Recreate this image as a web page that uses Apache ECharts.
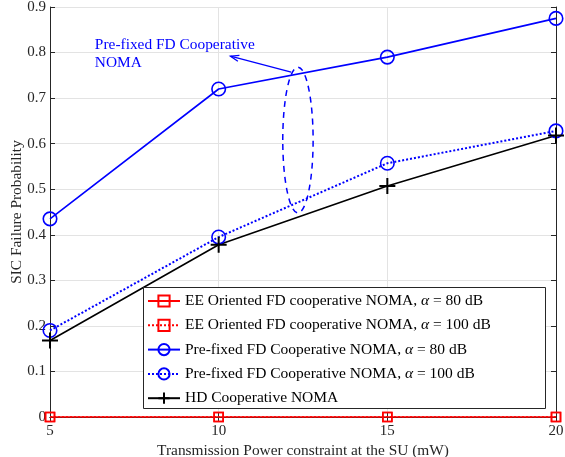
<!DOCTYPE html>
<html><head><meta charset="utf-8">
<script src="https://cdn.jsdelivr.net/npm/echarts@6/dist/echarts.min.js"></script>
<style>html,body{margin:0;padding:0;background:#fff}#c{width:565px;height:457px}</style>
</head><body><div id="c"></div>
<script>
const powers = [5, 10, 15, 20];
const eeAlpha80 = [0, 0, 0, 0];
const eeAlpha100 = [0, 0, 0, 0];
const preAlpha80 = [0.435, 0.72, 0.79, 0.875];
const preAlpha100 = [0.19, 0.395, 0.557, 0.628];
const hdNoma = [0.168, 0.378, 0.507, 0.618];
const seriesNames = [
  'EE Oriented FD cooperative NOMA, α = 80 dB',
  'EE Oriented FD cooperative NOMA, α = 100 dB',
  'Pre-fixed FD Cooperative NOMA, α = 80 dB',
  'Pre-fixed FD Cooperative NOMA, α = 100 dB',
  'HD Cooperative NOMA'
];
const annotationText = 'Pre-fixed FD Cooperative\nNOMA';

(function () {
const pair = arr => powers.map((x, i) => [x, arr[i]]);
const serif = 'Liberation Serif';
const ink = '#262626';
const chart = echarts.init(document.getElementById('c'));
const plus = 'path://M0,-10L0,10M-10,0L10,0';
const tick = {show: true, inside: true, length: 5, lineStyle: {color: ink}};
const hidden = {show: false};

chart.setOption({
  animation: false,
  grid: {left: 50, right: 9, top: 7, bottom: 40, outerBoundsMode: 'none', containLabel: false},
  xAxis: [{
    type: 'value', min: 5, max: 20, interval: 5,
    name: 'Transmission Power constraint at the SU (mW)', nameLocation: 'middle', nameGap: 19,
    nameTextStyle: {fontFamily: serif, fontSize: 15.4, color: ink},
    axisLine: {lineStyle: {color: ink}},
    axisTick: tick,
    axisLabel: {fontFamily: serif, fontSize: 15, color: ink, margin: 7},
    splitLine: {show: true, lineStyle: {color: '#e3e3e3'}}
  }, {
    type: 'value', min: 5, max: 20, interval: 5, position: 'top',
    axisLine: {show: true, lineStyle: {color: ink}}, axisTick: tick, axisLabel: hidden, splitLine: hidden
  }],
  yAxis: [{
    type: 'value', min: 0, max: 0.9, interval: 0.1,
    name: 'SIC Failure Probability', nameLocation: 'middle', nameGap: 26, nameMoveOverlap: false,
    nameTextStyle: {fontFamily: serif, fontSize: 15.4, color: ink},
    axisLine: {show: true, lineStyle: {color: ink}},
    axisTick: tick,
    axisLabel: {fontFamily: serif, fontSize: 15, color: ink, margin: 4, formatter: v => String(+v.toFixed(1))},
    splitLine: {show: true, lineStyle: {color: '#e3e3e3'}}
  }, {
    type: 'value', min: 0, max: 0.9, interval: 0.1, position: 'right',
    axisLine: {show: true, lineStyle: {color: ink}}, axisTick: tick, axisLabel: hidden, splitLine: hidden
  }],
  legend: {
    orient: 'vertical', left: 147, top: 293, z: 20,
    itemWidth: 32, itemHeight: 14, itemGap: 8.3,
    padding: 0,
    textStyle: {fontFamily: serif, fontSize: 15.5, color: '#000', rich: {i: {fontFamily: serif, fontStyle: 'italic', fontSize: 15.5, color: '#000'}}},
    formatter: n => n.replace('α', '{i|α}'),
    data: seriesNames
  },
  series: [
    {name: seriesNames[0], type: 'line', data: pair(eeAlpha80), symbol: 'rect', symbolSize: 9,
     lineStyle: {color: '#ff0000', width: 1.5}, itemStyle: {color: 'rgba(0,0,0,0)', borderColor: '#ff0000', borderWidth: 1.6}},
    {name: seriesNames[1], type: 'line', data: pair(eeAlpha100), symbol: 'rect', symbolSize: 9,
     lineStyle: {color: '#ff0000', width: 1.5, type: [2, 2]}, itemStyle: {color: 'rgba(0,0,0,0)', borderColor: '#ff0000', borderWidth: 1.6}},
    {name: seriesNames[2], type: 'line', data: pair(preAlpha80), symbol: 'circle', symbolSize: 13.5,
     lineStyle: {color: '#0000ff', width: 1.6}, itemStyle: {color: 'rgba(0,0,0,0)', borderColor: '#0000ff', borderWidth: 1.6}},
    {name: seriesNames[3], type: 'line', data: pair(preAlpha100), symbol: 'circle', symbolSize: 13.5,
     lineStyle: {color: '#0000ff', width: 2, type: [2, 2]}, itemStyle: {color: 'rgba(0,0,0,0)', borderColor: '#0000ff', borderWidth: 1.6}},
    {name: seriesNames[4], type: 'line', data: pair(hdNoma), symbol: plus, symbolSize: 16,
     lineStyle: {color: '#000', width: 1.6}, itemStyle: {color: '#000', borderColor: '#000', borderWidth: 2}}
  ]
});

function px(x, y) { return chart.convertToPixel({gridIndex: 0}, [x, y]); }
const c = px(12.35, 0.608);
const ellTop = px(12.35, 0.768);
const rx = px(12.8, 0)[0] - c[0];
const a1 = px(12.15, 0.757), a2 = px(10.35, 0.792);
const tpos = px(6.33, 0.837);
const ang = Math.atan2(a2[1] - a1[1], a2[0] - a1[0]);
const hl = 9, hw = 0.35;
chart.setOption({
  graphic: [
    {type: 'rect', shape: {x: 143.5, y: 287.5, width: 402, height: 121},
     style: {fill: '#fff', stroke: ink, lineWidth: 1}, z: 15},
    {type: 'ellipse', shape: {cx: c[0], cy: c[1], rx: rx, ry: c[1] - ellTop[1]},
     style: {fill: 'none', stroke: '#0000ff', lineWidth: 1.5, lineDash: [6, 5]}, z: 10},
    {type: 'line', shape: {x1: a1[0], y1: a1[1], x2: a2[0], y2: a2[1]}, style: {stroke: '#0000ff', lineWidth: 1.3}, z: 10},
    {type: 'polyline', shape: {points: [
      [a2[0] - hl * Math.cos(ang - hw), a2[1] - hl * Math.sin(ang - hw)],
      [a2[0], a2[1]],
      [a2[0] - hl * Math.cos(ang + hw), a2[1] - hl * Math.sin(ang + hw)]
    ]}, style: {stroke: '#0000ff', lineWidth: 1.3, fill: 'none'}, z: 10},
    {type: 'text', x: tpos[0], y: tpos[1], style: {text: annotationText, fontFamily: serif, fontSize: 15.4, fill: '#0000ff', lineHeight: 18, verticalAlign: 'top'}, z: 10}
  ]
});
})();
</script></body></html>
